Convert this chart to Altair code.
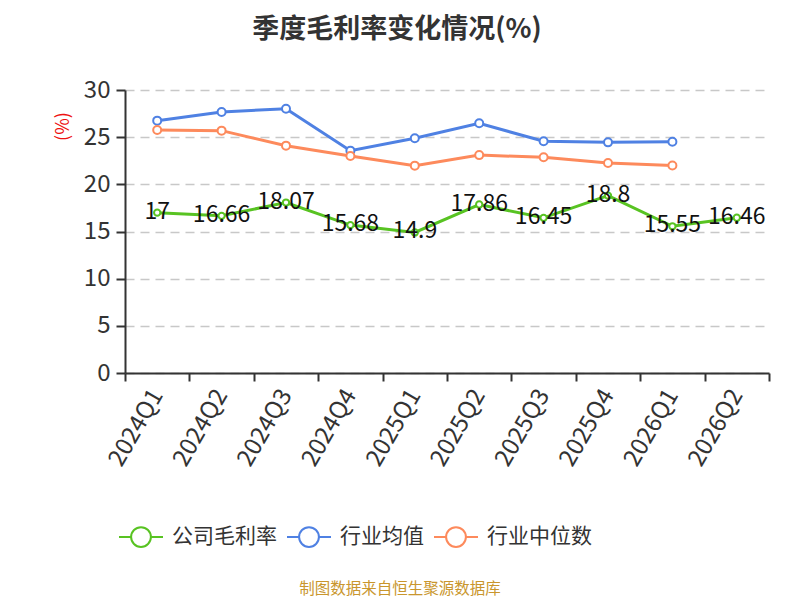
import altair as alt
import pandas as pd

quarters = ["2024Q1", "2024Q2", "2024Q3", "2024Q4", "2025Q1", "2025Q2",
            "2025Q3", "2025Q4", "2026Q1", "2026Q2"]
company = [17, 16.66, 18.07, 15.68, 14.9, 17.86, 16.45, 18.8, 15.55, 16.46]
industry_avg = [26.75, 27.67, 28.02, 23.57, 24.88, 26.47, 24.56, 24.45, 24.52, None]
industry_median = [25.76, 25.69, 24.1, 23.0, 21.98, 23.1, 22.87, 22.26, 22.0, None]

series_names = ["公司毛利率", "行业均值", "行业中位数"]
series_colors = ["#58c322", "#4f81e3", "#fd8a5c"]
title_text = "季度毛利率变化情况(%)"
footer_text = "制图数据来自恒生聚源数据库"

rows = []
for name, vals in zip(series_names, [company, industry_avg, industry_median]):
    for q, v in zip(quarters, vals):
        if v is not None:
            rows.append({"quarter": q, "series": name, "value": v})
df = pd.DataFrame(rows)

FONT = "Noto Sans CJK SC"

x_enc = alt.X(
    "quarter:O",
    sort=quarters,
    bandPosition=0.5,
    scale=alt.Scale(type="band", domain=quarters, paddingInner=0, paddingOuter=0),
    axis=alt.Axis(
        title=None, labelAngle=-60, labelAlign="right", labelBaseline="middle",
        labelFontSize=24, labelColor="#333", labelPadding=10,
        tickBand="extent", tickSize=8, tickColor="#333", tickWidth=2,
        domainColor="#333", domainWidth=2, grid=False,
    ),
)
y_enc = alt.Y(
    "value:Q",
    scale=alt.Scale(domain=[0, 30], nice=False, zero=True),
    axis=alt.Axis(
        title="(%)", titleColor="#ee1111", titleFontSize=18, titleFontWeight="normal",
        titleX=-62, titleY=36, titleAlign="center", titleBaseline="middle", titleAngle=-90,
        values=[0, 5, 10, 15, 20, 25, 30], labelFontSize=24, labelColor="#333",
        labelPadding=6, tickSize=9, tickColor="#333", tickWidth=2,
        domainColor="#333", domainWidth=2,
        grid=True, gridDash=[9, 6], gridColor="#c8c8c8", gridWidth=1.5,
    ),
)
color_enc = alt.Color(
    "series:N",
    scale=alt.Scale(domain=series_names, range=series_colors),
    sort=series_names,
    legend=alt.Legend(
        title=None, orient="none", direction="horizontal", legendX=-7, legendY=424,
        symbolType="M-1,0L-0.45,0M0.45,0L1,0M0.45,0A0.45,0.45 0 1,1 -0.45,0A0.45,0.45 0 1,1 0.45,0",
        symbolSize=1936, symbolStrokeWidth=2, symbolFillColor="white",
        labelFontSize=21, labelColor="#333", labelOffset=8, columnPadding=6,
    ),
)

base = alt.Chart(df)
lines = base.mark_line(strokeWidth=3).encode(x=x_enc, y=y_enc, color=color_enc)
points_company = base.transform_filter(alt.datum.series == series_names[0]).mark_point(
    filled=False, fill="white", fillOpacity=1, strokeWidth=2, opacity=1, size=40
).encode(x=x_enc, y=y_enc, color=color_enc)
points_industry = base.transform_filter(alt.datum.series != series_names[0]).mark_point(
    filled=False, fill="white", fillOpacity=1, strokeWidth=2, opacity=1, size=64
).encode(x=x_enc, y=y_enc, color=color_enc)
labels = base.transform_filter(alt.datum.series == series_names[0]).mark_text(
    fontSize=23, color="#111", baseline="middle", dy=-1, font=FONT
).encode(x=x_enc, y=y_enc, text=alt.Text("value:Q"))

footer = alt.Chart(pd.DataFrame({"t": [footer_text]})).mark_text(
    fontSize=15.5, color="#c9962d", align="center", baseline="middle", font=FONT
).encode(x=alt.value(275), y=alt.value(499), text="t:N")

chart = alt.layer(lines, points_company, points_industry, labels, footer).properties(
    width=644, height=283,
    autosize=alt.AutoSizeParams(type="none"),
    padding={"left": 117, "top": 82, "right": 23, "bottom": 227},
    title=alt.TitleParams(title_text, fontSize=27, fontWeight="bold", color="#333",
                          anchor="middle", dx=-50, offset=34, font=FONT),
).configure(font=FONT).configure_view(stroke=None)

chart.save("out.html", embed_options={"renderer": "svg", "actions": False})
